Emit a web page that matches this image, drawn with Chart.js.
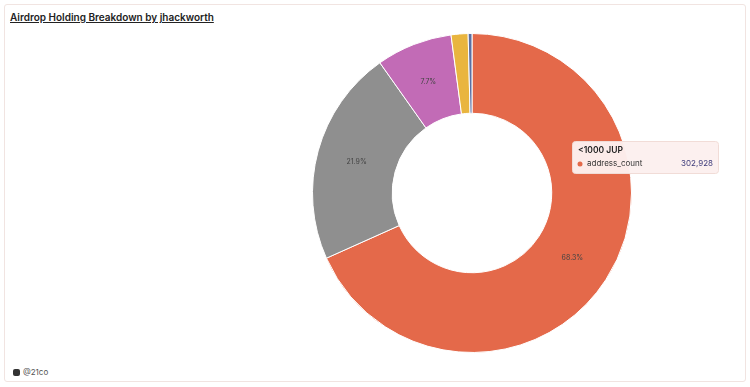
<!DOCTYPE html>
<html>
<head>
<meta charset="utf-8">
<script src="https://cdn.jsdelivr.net/npm/chart.js@4.4.1/dist/chart.umd.min.js"></script>
<style>
  body { margin: 0; background: #fff; font-family: Inter, "Noto Sans", sans-serif; }
  #card { position: absolute; left: 4px; top: 4px; width: 740px; height: 376px; border: 1px solid #f1e4e1; border-radius: 3px; }
  #title { position: absolute; left: 5px; top: 6px; font-size: 10px; font-weight: 600; color: #222; text-decoration: underline; }
  #mark { position: absolute; left: 8px; top: 362px; font-size: 8px; color: #555; display: flex; align-items: center; gap: 3px; }
  #mark span.icon { width: 7px; height: 7px; background: #333; border-radius: 2px; display: inline-block; }
  #wrap { position: absolute; left: 0; top: 0; width: 750px; height: 387px; }
</style>
</head>
<body>
<div id="card">
  <div id="title">Airdrop Holding Breakdown by jhackworth</div>
  <div id="mark"><span class="icon"></span>@21co</div>
</div>
<div id="wrap"><canvas id="pie"></canvas></div>
<script>
const tiers = ["<1000 JUP", "1000-5000 JUP", "5000-20000 JUP", "20000-100000 JUP", ">100000 JUP"];
const addressCount = [302928, 97132, 34152, 7600, 1714];
const sliceColors = ['#e4694a', '#8f8f8f', '#c26bb6', '#e9b53f', '#5b6fa3'];
const seriesName = 'address_count';

const total = addressCount.reduce((a, b) => a + b, 0);

const pctLabels = {
    id: 'pctLabels',
    afterDatasetsDraw(chart) {
        const ctx = chart.ctx;
        const meta = chart.getDatasetMeta(0);
        ctx.save();
        ctx.font = '7px Inter, sans-serif';
        ctx.fillStyle = '#444';
        ctx.textAlign = 'center';
        ctx.textBaseline = 'middle';
        meta.data.forEach((arc, i) => {
            const pct = addressCount[i] / total * 100;
            if (pct < 5) return;
            const p = arc.tooltipPosition();
            ctx.fillText(pct.toFixed(1) + '%', p.x, p.y);
        });
        ctx.restore();
    }
};

// fixed tooltip for the first slice, like the hovered state in the reference
const pinnedTip = {
    id: 'pinnedTip',
    afterDraw(chart) {
        const ctx = chart.ctx;
        const x = 572, y = 141, w = 146, h = 32;
        ctx.save();
        ctx.fillStyle = 'rgba(252, 240, 238, 0.97)';
        ctx.strokeStyle = '#f1dcd7';
        ctx.lineWidth = 1;
        ctx.beginPath();
        ctx.roundRect(x + 0.5, y + 0.5, w, h, 3);
        ctx.fill();
        ctx.stroke();
        ctx.textBaseline = 'middle';
        ctx.fillStyle = '#222';
        ctx.font = '600 8.5px Inter, sans-serif';
        ctx.fillText(tiers[0], x + 6, y + 9);
        ctx.fillStyle = sliceColors[0];
        ctx.beginPath();
        ctx.arc(x + 8, y + 23, 2.5, 0, Math.PI * 2);
        ctx.fill();
        ctx.fillStyle = '#333';
        ctx.font = '8px Inter, sans-serif';
        ctx.fillText(seriesName, x + 15, y + 23);
        ctx.fillStyle = '#3c3a7a';
        ctx.textAlign = 'right';
        ctx.fillText(addressCount[0].toLocaleString('en-US'), x + w - 5, y + 23);
        ctx.restore();
    }
};

new Chart(document.getElementById('pie'), {
    type: 'doughnut',
    data: {
        labels: tiers,
        datasets: [{
            label: seriesName,
            data: addressCount,
            backgroundColor: sliceColors,
            borderColor: '#ffffff',
            borderWidth: 1
        }]
    },
    options: {
        responsive: true,
        maintainAspectRatio: false,
        animation: false,
        cutout: '50%',
        layout: { padding: { left: 312, right: 118, top: 33, bottom: 34 } },
        plugins: {
            legend: { display: false },
            tooltip: { enabled: false }
        }
    },
    plugins: [pctLabels, pinnedTip]
});
</script>
</body>
</html>
